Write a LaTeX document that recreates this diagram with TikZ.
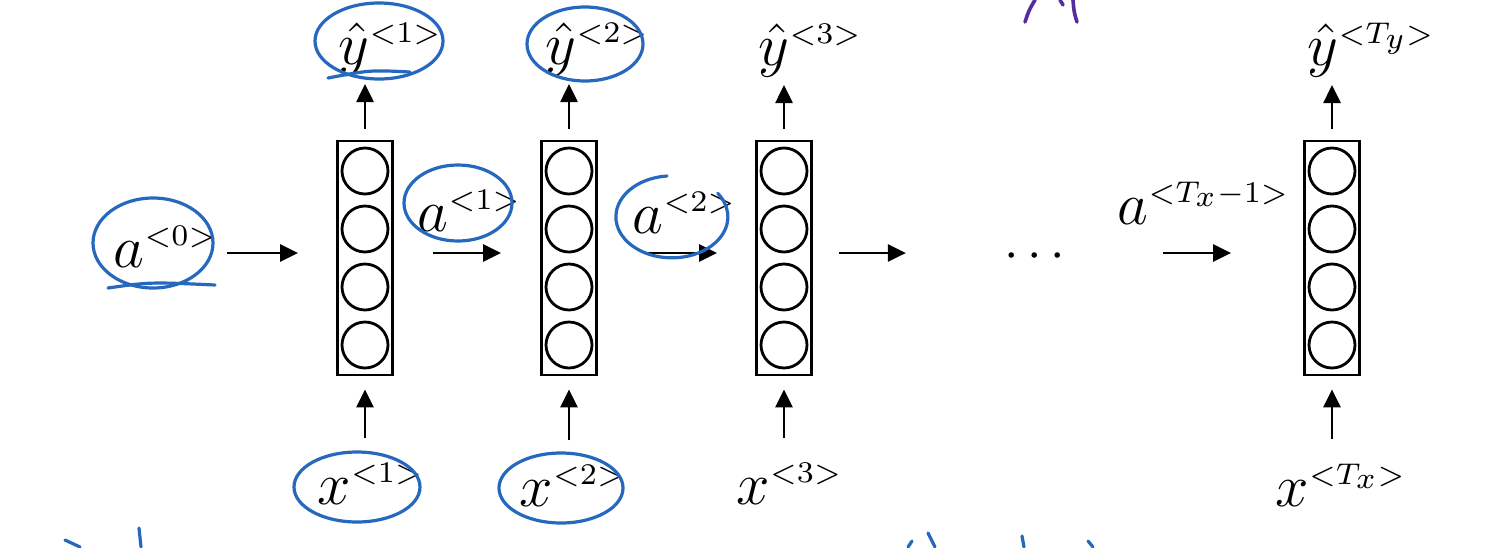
\RequirePackage{fix-cm}
\documentclass[tikz,border=0pt]{standalone}
\usetikzlibrary{arrows.meta}
\definecolor{handblue}{RGB}{38,104,190}
\definecolor{handpurple}{RGB}{84,44,160}
\newcommand{\seqlbl}[2]{$#1^{\scriptscriptstyle<#2>}$}
\tikzset{
	cellbox/.style={draw, line width=0.7pt, minimum width=13.75pt, minimum height=58.5pt, inner sep=0pt},
	unit/.style={draw, circle, line width=0.7pt, minimum size=11.5pt, inner sep=0pt},
	lbl/.style={anchor=south west, inner sep=0pt, font=\fontsize{15}{18}\selectfont},
	arr/.style={-{Triangle[length=4.5pt,width=4.25pt]}, line width=0.65pt},
	harr/.style={arr, transform canvas={yshift=1.25pt}},
	pen/.style={handblue, line width=0.8pt, line cap=round},
	purplepen/.style={handpurple, line width=0.9pt, line cap=round}
}
\begin{document}
\begin{tikzpicture}[x=0.25pt, y=-0.25pt]
	\useasboundingbox[fill=white] (0,0) rectangle (1488,547);
	% cells
	\node[cellbox] (c1) at (365,258) {};
	\node[cellbox] (c2) at (569,258) {};
	\node[cellbox] (c3) at (784,258) {};
	\node[cellbox] (c4) at (1332,258) {};
	\foreach \c in {c1,c2,c3,c4}
		\foreach \k/\dy in {1/21.75pt, 2/7.25pt, 3/-7.25pt, 4/-21.75pt}
			\node[unit] (\c u\k) at ([yshift=\dy]\c.center) {};
	% labels
	\node[lbl] (a0) at (113,268) {\seqlbl{a}{0}};
	\node[lbl] (a1) at (417,232) {\seqlbl{a}{1}};
	\node[lbl] (a2) at (632,234) {\seqlbl{a}{2}};
	\node[lbl] (aT) at (1117,225) {\seqlbl{a}{T_x-1}};
	\node[lbl] (y1) at (338,77) {\seqlbl{\hat{y}}{1}};
	\node[lbl] (y2) at (545,77) {\seqlbl{\hat{y}}{2}};
	\node[lbl] (y3) at (758,78) {\seqlbl{\hat{y}}{3}};
	\node[lbl] (yT) at (1307,78) {\seqlbl{\hat{y}}{T_y}};
	\node[lbl] (x1) at (317,505) {\seqlbl{x}{1}};
	\node[lbl] (x2) at (519,507) {\seqlbl{x}{2}};
	\node[lbl] (x3) at (736,505) {\seqlbl{x}{3}};
	\node[lbl] (xT) at (1275,507) {\seqlbl{x}{T_x}};
	\node[inner sep=0pt, font=\fontsize{13}{15}\selectfont] (dots) at (1035,257) {$\cdots$};
	% horizontal arrows
	\draw[harr, shorten <=2.25pt, shorten >=9.5pt] (a0.east |- c1.west) -- (c1.west);
	\draw[harr, shorten <=9.75pt, shorten >=9.75pt] (c1.east) -- (c2.west);
	\draw[harr, shorten <=12.5pt, shorten >=9.5pt] (c2.east) -- (c3.west);
	\draw[harr, shorten <=6.5pt, shorten >=24.5pt] (c3.east) -- (c3.east -| dots.west);
	\draw[harr, shorten <=24.25pt, shorten >=18pt] (dots.east |- c4.west) -- (c4.west);
	% up arrows
	\foreach \c/\y in {c1/y1, c2/y2, c3/y3, c4/yT}
		\draw[arr, shorten <=2.75pt, shorten >=1.75pt] (\c.north) -- (\c.north |- \y.south);
	\foreach \c/\x in {c1/x1, c2/x2, c3/x3, c4/xT}
		\draw[arr, shorten <=6pt, shorten >=3.25pt] (\c.south |- \x.north) -- (\c.south);
	% hand-drawn marks
	\draw[pen] (153,243) ellipse (60 and 45);
	\draw[pen] (108,288) .. controls (150,282) .. (215,285);
	\draw[pen] (379,41) ellipse (64 and 38);
	\draw[pen] (328,78) .. controls (370,70) .. (410,72);
	\draw[pen] (585,44) ellipse (58 and 37);
	\draw[pen] (458,203) ellipse (54 and 38);
	\draw[pen] (667,176) arc[start angle=265, end angle=-35, x radius=56, y radius=41];
	\draw[pen] (357,487) ellipse (63 and 35);
	\draw[pen] (561,488) ellipse (62 and 35);
	\draw[purplepen] (1025,22) .. controls (1029,10) .. (1035,0);
	\draw[purplepen] (1060,0) -- (1063,5);
	\draw[purplepen] (1073,0) .. controls (1074,12) .. (1077,22);
	\draw[pen] (65,540) -- (80,547);
	\draw[pen] (139,528) -- (141,547);
	\draw[pen] (908,547) -- (912,541);
	\draw[pen] (928,533) -- (935,547);
	\draw[pen] (1022,536) -- (1024,547);
	\draw[pen] (1088,541) -- (1093,547);
\end{tikzpicture}
\end{document}
